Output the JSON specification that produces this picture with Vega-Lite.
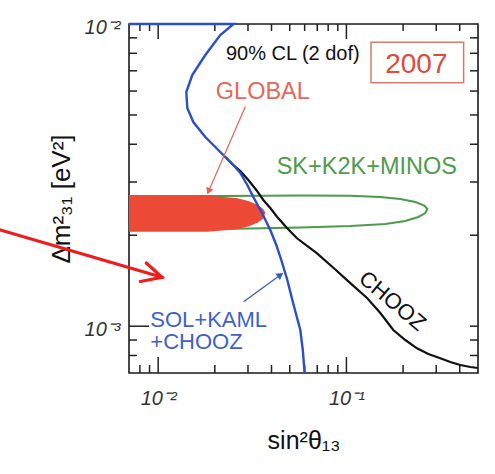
{
  "$schema": "https://vega.github.io/schema/vega-lite/v6.json",
  "width": 349,
  "height": 349,
  "autosize": {"type": "none"},
  "padding": {"left": 129, "top": 24, "right": 17, "bottom": 101},
  "background": "white",
  "config": {
    "view": {"stroke": "#1a1a1a", "strokeWidth": 1.6},
    "font": "Liberation Sans",
    "axis": {"labelFont": "Liberation Sans", "titleFont": "Liberation Sans", "grid": false}
  },
  "datasets": {
    "xMajor": [{"v": 0.01}, {"v": 0.1}],
    "xMinor": [{"v": 0.008}, {"v": 0.009}, {"v": 0.02}, {"v": 0.03}, {"v": 0.04}, {"v": 0.05}, {"v": 0.06}, {"v": 0.07}, {"v": 0.08}, {"v": 0.09}, {"v": 0.2}, {"v": 0.3}, {"v": 0.4}],
    "yMajor": [{"v": 0.001}],
    "yMinor": [{"v": 0.0008}, {"v": 0.0009}, {"v": 0.002}, {"v": 0.003}, {"v": 0.004}, {"v": 0.005}, {"v": 0.006}, {"v": 0.007}, {"v": 0.008}, {"v": 0.009}],
    "green": [
      {"o": 1, "s": 0.007, "d": 0.002697},
      {"o": 2, "s": 0.02138, "d": 0.002697},
      {"o": 3, "s": 0.0569, "d": 0.002707},
      {"o": 4, "s": 0.1049, "d": 0.002701},
      {"o": 5, "s": 0.1514, "d": 0.002676},
      {"o": 6, "s": 0.1933, "d": 0.002636},
      {"o": 7, "s": 0.2323, "d": 0.002576},
      {"o": 8, "s": 0.2593, "d": 0.002508},
      {"o": 9, "s": 0.269, "d": 0.002442},
      {"o": 10, "s": 0.2625, "d": 0.002369},
      {"o": 11, "s": 0.2409, "d": 0.002298},
      {"o": 12, "s": 0.2055, "d": 0.002229},
      {"o": 13, "s": 0.1609, "d": 0.002179},
      {"o": 14, "s": 0.1049, "d": 0.002146},
      {"o": 15, "s": 0.0569, "d": 0.002121},
      {"o": 16, "s": 0.03087, "d": 0.002105},
      {"o": 17, "s": 0.01675, "d": 0.002092},
      {"o": 18, "s": 0.007, "d": 0.002081}
    ],
    "global": [
      {"s": 0.007, "top": 0.002703, "bot": 0.002054},
      {"s": 0.01824, "top": 0.002703, "bot": 0.002054},
      {"s": 0.02602, "top": 0.002654, "bot": 0.002092},
      {"s": 0.03012, "top": 0.002596, "bot": 0.002138},
      {"s": 0.0337, "top": 0.002523, "bot": 0.0022},
      {"s": 0.03618, "top": 0.002442, "bot": 0.002273},
      {"s": 0.03708, "top": 0.002378, "bot": 0.002378}
    ],
    "chooz": [
      {"o": 1, "s": 0.02274, "d": 0.00363},
      {"o": 2, "s": 0.02507, "d": 0.003415},
      {"o": 3, "s": 0.02731, "d": 0.003263},
      {"o": 4, "s": 0.03012, "d": 0.003047},
      {"o": 5, "s": 0.03321, "d": 0.002823},
      {"o": 6, "s": 0.03618, "d": 0.002616},
      {"o": 7, "s": 0.03942, "d": 0.002461},
      {"o": 8, "s": 0.04278, "d": 0.002303},
      {"o": 9, "s": 0.04835, "d": 0.002113},
      {"o": 10, "s": 0.05464, "d": 0.001954},
      {"o": 11, "s": 0.06982, "d": 0.001742},
      {"o": 12, "s": 0.08551, "d": 0.001558},
      {"o": 13, "s": 0.1049, "d": 0.001389},
      {"o": 14, "s": 0.1287, "d": 0.00124},
      {"o": 15, "s": 0.1514, "d": 0.001106},
      {"o": 16, "s": 0.1774, "d": 0.0009714},
      {"o": 17, "s": 0.2055, "d": 0.0009},
      {"o": 18, "s": 0.2371, "d": 0.000845},
      {"o": 19, "s": 0.2723, "d": 0.0008091},
      {"o": 20, "s": 0.3153, "d": 0.0007831},
      {"o": 21, "s": 0.3563, "d": 0.0007613},
      {"o": 22, "s": 0.4027, "d": 0.0007441},
      {"o": 23, "s": 0.455, "d": 0.0007328},
      {"o": 24, "s": 0.5, "d": 0.0007273}
    ],
    "solar": [
      {"o": 1, "s": 0.007, "d": 0.01},
      {"o": 2, "s": 0.02516, "d": 0.01},
      {"o": 3, "s": 0.02138, "d": 0.009197},
      {"o": 4, "s": 0.0178, "d": 0.007897},
      {"o": 5, "s": 0.01518, "d": 0.006779},
      {"o": 6, "s": 0.01411, "d": 0.005957},
      {"o": 7, "s": 0.01428, "d": 0.005272},
      {"o": 8, "s": 0.01537, "d": 0.004737},
      {"o": 9, "s": 0.0178, "d": 0.004227},
      {"o": 10, "s": 0.02036, "d": 0.003887},
      {"o": 11, "s": 0.02274, "d": 0.00363},
      {"o": 12, "s": 0.02507, "d": 0.003415},
      {"o": 13, "s": 0.02731, "d": 0.003213},
      {"o": 14, "s": 0.02975, "d": 0.002933},
      {"o": 15, "s": 0.03201, "d": 0.002676},
      {"o": 16, "s": 0.03561, "d": 0.002369},
      {"o": 17, "s": 0.03942, "d": 0.002081},
      {"o": 18, "s": 0.04242, "d": 0.001856},
      {"o": 19, "s": 0.04508, "d": 0.001656},
      {"o": 20, "s": 0.04853, "d": 0.001422},
      {"o": 21, "s": 0.0516, "d": 0.001221},
      {"o": 22, "s": 0.05418, "d": 0.001089},
      {"o": 23, "s": 0.0569, "d": 0.0009714},
      {"o": 24, "s": 0.05866, "d": 0.000834},
      {"o": 25, "s": 0.05997, "d": 0.0007}
    ],
    "bigArrow": [
      {"part": "shaft", "o": 1, "s": 0.00145, "d": 0.002081},
      {"part": "shaft", "o": 2, "s": 0.01048, "d": 0.001451},
      {"part": "head", "o": 1, "s": 0.00865, "d": 0.001618},
      {"part": "head", "o": 2, "s": 0.01048, "d": 0.001451},
      {"part": "head", "o": 3, "s": 0.008036, "d": 0.001406}
    ],
    "globalArrow": [
      {"o": 1, "s": 0.02903, "d": 0.005324},
      {"o": 2, "s": 0.01853, "d": 0.002796}
    ],
    "solArrow": [
      {"o": 1, "s": 0.02844, "d": 0.001205},
      {"o": 2, "s": 0.0446, "d": 0.001477}
    ]
  },
  "resolve": {"axis": {"x": "independent", "y": "independent"}},
  "layer": [
    {
      "data": {"name": "green"},
      "mark": {"type": "line", "color": "#4c9a4c", "strokeWidth": 2},
      "encoding": {
        "x": {
          "field": "s", "type": "quantitative",
          "scale": {"type": "log", "domain": [0.007, 0.5], "nice": false},
          "axis": {
            "orient": "bottom", "values": [0.01, 0.1], "ticks": false, "domain": false,
            "labelExpr": "datum.value < 0.05 ? '10⁻²' : '10⁻¹'",
            "labelFontSize": 20, "labelFontStyle": "italic", "labelColor": "#333",
            "labelPadding": 15, "labelFlush": false, "labelOverlap": false,
            "title": "sin²θ₁₃", "titleFontSize": 25, "titleFontWeight": "normal",
            "titleColor": "#111", "titlePadding": 20
          }
        },
        "y": {
          "field": "d", "type": "quantitative",
          "scale": {"type": "log", "domain": [0.0007, 0.01], "nice": false},
          "axis": {
            "orient": "left", "values": [0.001, 0.01], "ticks": false, "domain": false,
            "labelExpr": "datum.value < 0.005 ? '10⁻³' : '10⁻²'",
            "labelFontSize": 20, "labelFontStyle": "italic", "labelColor": "#333",
            "labelPadding": 9, "labelOffset": 3, "labelFlush": false, "labelOverlap": false,
            "title": "Δm²₃₁ [eV²]", "titleFontSize": 26, "titleFontWeight": "normal",
            "titleColor": "#111", "titlePadding": 10
          }
        },
        "order": {"field": "o", "type": "quantitative"}
      }
    },
    {
      "data": {"name": "xMajor"},
      "mark": {"type": "tick", "orient": "vertical", "size": 16, "thickness": 1.5, "yOffset": -8, "color": "#222", "opacity": 1},
      "encoding": {
        "x": {"field": "v", "type": "quantitative", "axis": null},
        "y": {"datum": 0.0007, "type": "quantitative", "axis": null}
      }
    },
    {
      "data": {"name": "xMinor"},
      "mark": {"type": "tick", "orient": "vertical", "size": 8, "thickness": 1.5, "yOffset": -4, "color": "#222", "opacity": 1},
      "encoding": {
        "x": {"field": "v", "type": "quantitative", "axis": null},
        "y": {"datum": 0.0007, "type": "quantitative", "axis": null}
      }
    },
    {
      "data": {"name": "xMajor"},
      "mark": {"type": "tick", "orient": "vertical", "size": 15, "thickness": 1.5, "yOffset": 7.5, "color": "#222", "opacity": 1},
      "encoding": {
        "x": {"field": "v", "type": "quantitative", "axis": null},
        "y": {"datum": 0.01, "type": "quantitative", "axis": null}
      }
    },
    {
      "data": {"name": "xMinor"},
      "mark": {"type": "tick", "orient": "vertical", "size": 7, "thickness": 1.5, "yOffset": 3.5, "color": "#222", "opacity": 1},
      "encoding": {
        "x": {"field": "v", "type": "quantitative", "axis": null},
        "y": {"datum": 0.01, "type": "quantitative", "axis": null}
      }
    },
    {
      "data": {"name": "yMajor"},
      "mark": {"type": "tick", "orient": "horizontal", "size": 20, "thickness": 1.5, "xOffset": 10, "color": "#222", "opacity": 1},
      "encoding": {
        "y": {"field": "v", "type": "quantitative", "axis": null},
        "x": {"datum": 0.007, "type": "quantitative", "axis": null}
      }
    },
    {
      "data": {"name": "yMinor"},
      "mark": {"type": "tick", "orient": "horizontal", "size": 8, "thickness": 1.5, "xOffset": 4, "color": "#222", "opacity": 1},
      "encoding": {
        "y": {"field": "v", "type": "quantitative", "axis": null},
        "x": {"datum": 0.007, "type": "quantitative", "axis": null}
      }
    },
    {
      "data": {"name": "yMajor"},
      "mark": {"type": "tick", "orient": "horizontal", "size": 8, "thickness": 1.5, "xOffset": -4, "color": "#222", "opacity": 1},
      "encoding": {
        "y": {"field": "v", "type": "quantitative", "axis": null},
        "x": {"datum": 0.5, "type": "quantitative", "axis": null}
      }
    },
    {
      "data": {"name": "yMinor"},
      "mark": {"type": "tick", "orient": "horizontal", "size": 8, "thickness": 1.5, "xOffset": -4, "color": "#222", "opacity": 1},
      "encoding": {
        "y": {"field": "v", "type": "quantitative", "axis": null},
        "x": {"datum": 0.5, "type": "quantitative", "axis": null}
      }
    },
    {
      "data": {"name": "global"},
      "mark": {"type": "area", "color": "#ec4a36", "opacity": 1},
      "encoding": {
        "x": {"field": "s", "type": "quantitative", "axis": null},
        "y": {"field": "top", "type": "quantitative", "axis": null},
        "y2": {"field": "bot"}
      }
    },
    {
      "data": {"name": "chooz"},
      "mark": {"type": "line", "color": "#111111", "strokeWidth": 2.2},
      "encoding": {
        "x": {"field": "s", "type": "quantitative", "axis": null},
        "y": {"field": "d", "type": "quantitative", "axis": null},
        "order": {"field": "o", "type": "quantitative"}
      }
    },
    {
      "data": {"name": "solar"},
      "mark": {"type": "line", "color": "#2b4fc4", "strokeWidth": 2.4},
      "encoding": {
        "x": {"field": "s", "type": "quantitative", "axis": null},
        "y": {"field": "d", "type": "quantitative", "axis": null},
        "order": {"field": "o", "type": "quantitative"}
      }
    },
    {
      "data": {"name": "globalArrow"},
      "mark": {"type": "line", "color": "#e8604f", "strokeWidth": 1.2},
      "encoding": {
        "x": {"field": "s", "type": "quantitative", "axis": null},
        "y": {"field": "d", "type": "quantitative", "axis": null},
        "order": {"field": "o", "type": "quantitative"}
      }
    },
    {
      "data": {"values": [{"s": 0.01853, "d": 0.002796}]},
      "mark": {"type": "point", "shape": "triangle-right", "filled": true, "color": "#e8604f", "size": 60, "angle": 113.5, "opacity": 1},
      "encoding": {
        "x": {"field": "s", "type": "quantitative", "axis": null},
        "y": {"field": "d", "type": "quantitative", "axis": null}
      }
    },
    {
      "data": {"name": "solArrow"},
      "mark": {"type": "line", "color": "#3557cc", "strokeWidth": 1.3},
      "encoding": {
        "x": {"field": "s", "type": "quantitative", "axis": null},
        "y": {"field": "d", "type": "quantitative", "axis": null},
        "order": {"field": "o", "type": "quantitative"}
      }
    },
    {
      "data": {"values": [{"s": 0.0446, "d": 0.001477}]},
      "mark": {"type": "point", "shape": "triangle-right", "filled": true, "color": "#3557cc", "size": 60, "angle": -36, "opacity": 1},
      "encoding": {
        "x": {"field": "s", "type": "quantitative", "axis": null},
        "y": {"field": "d", "type": "quantitative", "axis": null}
      }
    },
    {
      "data": {"name": "bigArrow"},
      "mark": {"type": "line", "color": "#ee1c1c", "strokeWidth": 3.2, "clip": false, "strokeCap": "round", "strokeJoin": "miter"},
      "encoding": {
        "x": {"field": "s", "type": "quantitative", "axis": null},
        "y": {"field": "d", "type": "quantitative", "axis": null},
        "detail": {"field": "part"},
        "order": {"field": "o", "type": "quantitative"}
      }
    },
    {
      "data": {"values": [{"x1": 0.1351, "x2": 0.4194, "y1": 0.008699, "y2": 0.006393}]},
      "mark": {"type": "rect", "fill": null, "fillOpacity": 0, "stroke": "#d9786f", "strokeWidth": 1.5},
      "encoding": {
        "x": {"field": "x1", "type": "quantitative", "axis": null},
        "x2": {"field": "x2"},
        "y": {"field": "y1", "type": "quantitative", "axis": null},
        "y2": {"field": "y2"}
      }
    },
    {
      "data": {"values": [{"label": "2007", "s": 0.2351, "d": 0.007316}]},
      "mark": {"type": "text", "fontSize": 28, "color": "#de4a3c", "align": "center", "baseline": "middle"},
      "encoding": {
        "x": {"field": "s", "type": "quantitative", "axis": null},
        "y": {"field": "d", "type": "quantitative", "axis": null},
        "text": {"field": "label"}
      }
    },
    {
      "data": {"values": [{"label": "90% CL (2 dof)", "s": 0.05191, "d": 0.007986}]},
      "mark": {"type": "text", "fontSize": 20, "color": "#111", "align": "center", "baseline": "middle"},
      "encoding": {
        "x": {"field": "s", "type": "quantitative", "axis": null},
        "y": {"field": "d", "type": "quantitative", "axis": null},
        "text": {"field": "label"}
      }
    },
    {
      "data": {"values": [{"label": "GLOBAL", "s": 0.03597, "d": 0.005934}]},
      "mark": {"type": "text", "fontSize": 23.5, "color": "#e4675a", "align": "center", "baseline": "middle"},
      "encoding": {
        "x": {"field": "s", "type": "quantitative", "axis": null},
        "y": {"field": "d", "type": "quantitative", "axis": null},
        "text": {"field": "label"}
      }
    },
    {
      "data": {"values": [{"label": "SK+K2K+MINOS", "s": 0.1283, "d": 0.003371}]},
      "mark": {"type": "text", "fontSize": 23.5, "color": "#4f9a4f", "align": "center", "baseline": "middle"},
      "encoding": {
        "x": {"field": "s", "type": "quantitative", "axis": null},
        "y": {"field": "d", "type": "quantitative", "axis": null},
        "text": {"field": "label"}
      }
    },
    {
      "data": {"values": [
        {"label": "SOL+KAML", "s": 0.009082, "d": 0.001048},
        {"label": "+CHOOZ", "s": 0.009082, "d": 0.0008834}
      ]},
      "mark": {"type": "text", "fontSize": 22, "color": "#3d5fcd", "align": "left", "baseline": "middle"},
      "encoding": {
        "x": {"field": "s", "type": "quantitative", "axis": null},
        "y": {"field": "d", "type": "quantitative", "axis": null},
        "text": {"field": "label"}
      }
    },
    {
      "data": {"values": [{"label": "CHOOZ", "s": 0.1753, "d": 0.001212}]},
      "mark": {"type": "text", "fontSize": 22, "color": "#111", "align": "center", "baseline": "middle", "angle": 40},
      "encoding": {
        "x": {"field": "s", "type": "quantitative", "axis": null},
        "y": {"field": "d", "type": "quantitative", "axis": null},
        "text": {"field": "label"}
      }
    }
  ]
}
